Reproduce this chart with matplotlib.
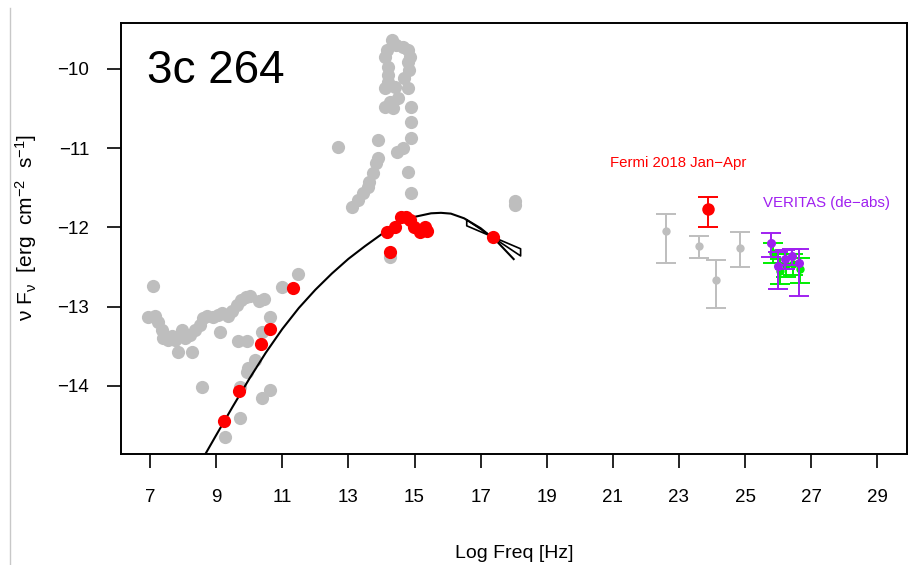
import matplotlib
matplotlib.use("Agg")
import matplotlib.pyplot as plt
from matplotlib.lines import Line2D
import numpy as np

plt.rcParams['font.family'] = ['Liberation Sans', 'DejaVu Sans']
plt.rcParams['mathtext.fontset'] = 'custom'
plt.rcParams['mathtext.rm'] = 'Liberation Sans'
plt.rcParams['mathtext.it'] = 'Liberation Sans'
plt.rcParams['mathtext.sf'] = 'Liberation Sans'

# ---- archival (gray) points ----
gray_x = [7.09, 6.94, 7.15, 7.24, 7.36, 7.39, 7.55, 7.67, 7.76, 7.85, 7.97, 8.06, 8.21, 8.27,
          8.36, 8.52, 8.61, 8.73, 8.91, 9.06, 9.18, 9.36, 9.48, 9.64, 9.76, 9.91, 10.03, 10.3,
          10.45, 9.12, 9.67, 9.94, 10.39, 10.64, 11.0, 11.48, 10.18, 9.97, 9.94, 9.73, 8.58,
          10.39, 10.64, 9.73, 9.27,
          14.33, 14.64, 14.18, 14.79, 14.12, 14.21, 14.79, 14.82, 14.21, 14.67, 14.21, 14.12,
          14.79, 14.42, 14.27, 14.12, 14.36, 14.88, 14.88, 14.88, 13.91, 12.70, 14.64, 14.48,
          13.91, 13.82, 14.79, 13.73, 13.61, 13.58, 13.45, 14.88, 13.30, 13.12, 14.27,
          18.03, 18.03, 14.45, 14.85, 14.5]
gray_y = [-12.74, -13.13, -13.12, -13.19, -13.29, -13.39, -13.42, -13.37, -13.42, -13.57, -13.29,
          -13.39, -13.36, -13.57, -13.29, -13.23, -13.14, -13.12, -13.13, -13.10, -13.08, -13.12,
          -13.05, -12.98, -12.91, -12.88, -12.86, -12.93, -12.90, -13.32, -13.44, -13.43, -13.32,
          -13.13, -12.75, -12.59, -13.67, -13.77, -13.82, -14.01, -14.01, -14.15, -14.05, -14.40,
          -14.64,
          -9.63, -9.72, -9.76, -9.76, -9.85, -9.97, -9.91, -10.01, -10.08, -10.11, -10.16, -10.24,
          -10.24, -10.23, -10.42, -10.48, -10.49, -10.48, -10.67, -10.87, -10.90, -10.98, -11.00,
          -11.05, -11.12, -11.19, -11.30, -11.31, -11.43, -11.49, -11.56, -11.56, -11.65, -11.74,
          -12.37, -11.67, -11.72, -9.70, -9.85, -10.37]

# ---- contemporaneous (red) points ----
red_x = [11.33, 10.64, 10.36, 9.70, 9.24, 14.58, 14.73, 14.85, 14.42, 14.18, 14.97, 15.18,
         15.33, 15.39, 14.27, 17.36]
red_y = [-12.76, -13.28, -13.47, -14.06, -14.44, -11.87, -11.87, -11.91, -11.99, -12.06,
         -11.99, -12.06, -11.99, -12.04, -12.31, -12.12]

# ---- model curve ----
curve_x = [8.55, 9.0, 9.5, 10.0, 10.5, 11.0, 11.5, 12.0, 12.5, 13.0, 13.5, 14.0, 14.5,
           15.0, 15.5, 15.8, 16.1, 16.5, 17.0, 17.5, 18.0]
curve_y = [-14.95, -14.622, -14.262, -13.912, -13.582, -13.282, -13.017, -12.787, -12.582,
           -12.397, -12.237, -12.087, -11.957, -11.867, -11.822, -11.816, -11.826, -11.885,
           -12.01, -12.18, -12.40]

# ---- X-ray bow-tie ----
bow_x = [16.58, 18.21, 18.21, 16.58, 16.58]
bow_y = [-11.905, -12.36, -12.27, -11.98, -11.905]

# ---- gamma-ray archival (gray) ----
gg_x = [22.6, 23.6, 24.12, 24.85]
gg_y = [-12.04, -12.23, -12.66, -12.26]
gg_hi = [-11.83, -12.11, -12.41, -12.06]
gg_lo = [-12.45, -12.38, -13.02, -12.50]

# ---- Fermi 2018 ----
fermi_x = [23.88]
fermi_y = [-11.77]
fermi_hi = [-11.62]
fermi_lo = [-11.99]

# ---- VERITAS observed (green) ----
vg_x = [25.85, 26.05, 26.25, 26.45, 26.65]
vg_y = [-12.32, -12.55, -12.47, -12.46, -12.52]
vg_hi = [-12.20, -12.40, -12.33, -12.33, -12.38]
vg_lo = [-12.45, -12.72, -12.62, -12.60, -12.70]

# ---- VERITAS de-absorbed (purple) ----
vp_x = [25.79, 26.0, 26.2, 26.42, 26.64]
vp_y = [-12.20, -12.49, -12.40, -12.36, -12.45]
vp_hi = [-12.07, -12.31, -12.29, -12.27, -12.27]
vp_lo = [-12.37, -12.78, -12.52, -12.48, -12.86]

xticks = [7, 9, 11, 13, 15, 17, 19, 21, 23, 25, 27, 29]
yticks = [-10, -11, -12, -13, -14]

GRAY = '#bebebe'
PURPLE = '#a020f0'

fig = plt.figure(figsize=(9.1, 5.65), dpi=100)
ax = fig.add_axes([121/910, 1-454/565, (907-121)/910, (454-23)/565])

ax.plot(gray_x, gray_y, 'o', color=GRAY, ms=9.5, mec='none', zorder=2)
ax.plot(curve_x, curve_y, '-', color='black', lw=1.5, zorder=3, solid_joinstyle='round')
ax.plot(bow_x, bow_y, '-', color='black', lw=1.2, zorder=3)
ax.plot(red_x, red_y, 'o', color='red', ms=9.5, mec='none', zorder=4)

def ebar(x, y, hi, lo, color, ms, cap, z):
    y = np.array(y); hi = np.array(hi); lo = np.array(lo)
    ax.errorbar(x, y, yerr=[y - lo, hi - y], fmt='o', color=color, ms=ms, mec='none',
                capsize=cap, elinewidth=1.4, capthick=1.4, zorder=z)

ebar(gg_x, gg_y, gg_hi, gg_lo, GRAY, 6, 7, 5)
ebar(fermi_x, fermi_y, fermi_hi, fermi_lo, 'red', 9, 7.5, 6)
ebar(vg_x, vg_y, vg_hi, vg_lo, '#00ee00', 6, 7, 5)
ebar(vp_x, vp_y, vp_hi, vp_lo, PURPLE, 6.5, 7, 6)

ax.text(22.97, -11.19, 'Fermi 2018 Jan\u2212Apr', color='red', fontsize=10.8, ha='center', va='center')
ax.text(27.45, -11.69, 'VERITAS (de\u2212abs)', color=PURPLE, fontsize=10.8, ha='center', va='center')
ax.text(6.9, -10.03, '3c 264', fontsize=33, ha='left', va='center')

ax.set_xlim(6.12, 29.9)
ax.set_ylim(-14.86, -9.42)
ax.set_xticks(xticks)
ax.set_yticks(yticks)
ax.set_xticklabels([str(v) for v in xticks])
ax.set_yticklabels(['\u2212' + str(-v) for v in yticks])
ax.tick_params(direction='out', length=10, width=1.2, labelsize=13.5, pad=13)
ax.tick_params(axis='x', pad=15)
for s in ax.spines.values():
    s.set_linewidth(1.4)

ax.set_xlabel('Log Freq [Hz]', fontsize=14, labelpad=28)
ax.set_ylabel(r'$\nu\ \mathrm{F}_{\nu}\ \ [\mathrm{erg\ \ cm^{-2}\ \ s^{-1}}]$', fontsize=15, labelpad=12)
ax.yaxis.set_label_coords(-0.104, 0.525)

fig.add_artist(Line2D([10/910, 10/910], [0, 1-8/565], color='#c8c8c8', lw=1, transform=fig.transFigure))

fig.savefig('out.png', dpi=100)
